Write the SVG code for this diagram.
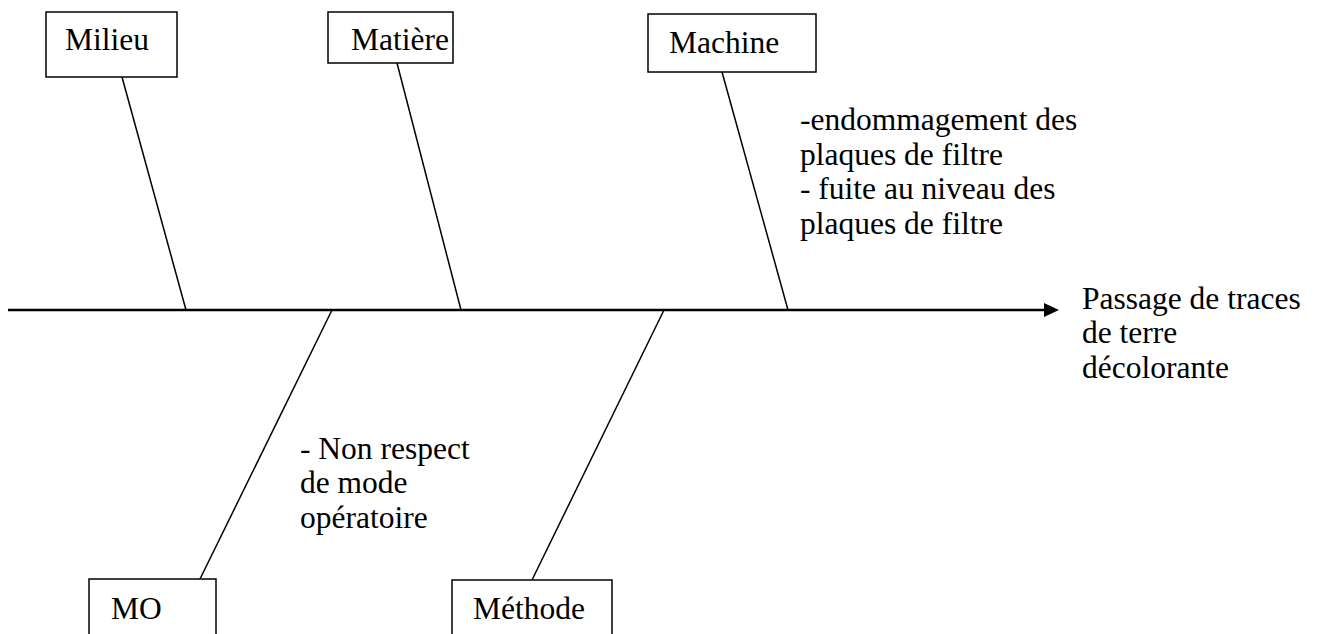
<svg xmlns="http://www.w3.org/2000/svg" width="1322" height="634" viewBox="0 0 1322 634">
  <style>
    .box { fill: #ffffff; stroke: #000000; stroke-width: 1.5; }
    .bone { stroke: #000000; stroke-width: 1.5; fill: none; }
    .spine { stroke: #000000; stroke-width: 2.5; fill: none; }
    .lbl { font-family: 'Liberation Serif', 'Times New Roman', serif; font-size: 31.5px; fill: #000000; }
  </style>
  <rect width="1322" height="634" fill="#ffffff"/>

  <!-- connectors: spine and cause branches -->
  <g id="connectors">
    <line class="spine" x1="8" y1="310" x2="1046" y2="310"/>
    <polygon points="1044,303 1059,310 1044,317" fill="#000000"/>
    <line class="bone" x1="122" y1="77" x2="186" y2="310"/>
    <line class="bone" x1="397" y1="63" x2="461" y2="310"/>
    <line class="bone" x1="722" y1="72" x2="788" y2="310"/>
    <line class="bone" x1="332" y1="310" x2="200" y2="579"/>
    <line class="bone" x1="664" y1="310" x2="532" y2="580"/>
  </g>

  <g id="milieu">
    <rect class="box" x="46" y="12" width="131" height="65"/>
    <text class="lbl" x="65" y="50">Milieu</text>
  </g>

  <g id="matiere">
    <rect class="box" x="328" y="12" width="125" height="51"/>
    <text class="lbl" x="351" y="50">Matière</text>
  </g>

  <g id="machine">
    <rect class="box" x="648" y="14" width="168" height="58"/>
    <text class="lbl" x="669" y="53">Machine</text>
  </g>

  <g id="machine-causes" class="lbl">
    <text x="800" y="130">-endommagement des</text>
    <text x="800" y="165">plaques de filtre</text>
    <text x="800" y="199">- fuite au niveau des</text>
    <text x="800" y="234">plaques de filtre</text>
  </g>

  <g id="effect" class="lbl">
    <text x="1082" y="309">Passage de traces</text>
    <text x="1082" y="343">de terre</text>
    <text x="1082" y="378">décolorante</text>
  </g>

  <g id="mo-causes" class="lbl">
    <text x="300" y="459">- Non respect</text>
    <text x="300" y="493">de mode</text>
    <text x="300" y="528">opératoire</text>
  </g>

  <g id="mo">
    <rect class="box" x="89" y="579" width="127" height="70"/>
    <text class="lbl" x="111" y="619">MO</text>
  </g>

  <g id="methode">
    <rect class="box" x="452" y="580" width="160" height="70"/>
    <text class="lbl" x="473" y="619">Méthode</text>
  </g>
</svg>
